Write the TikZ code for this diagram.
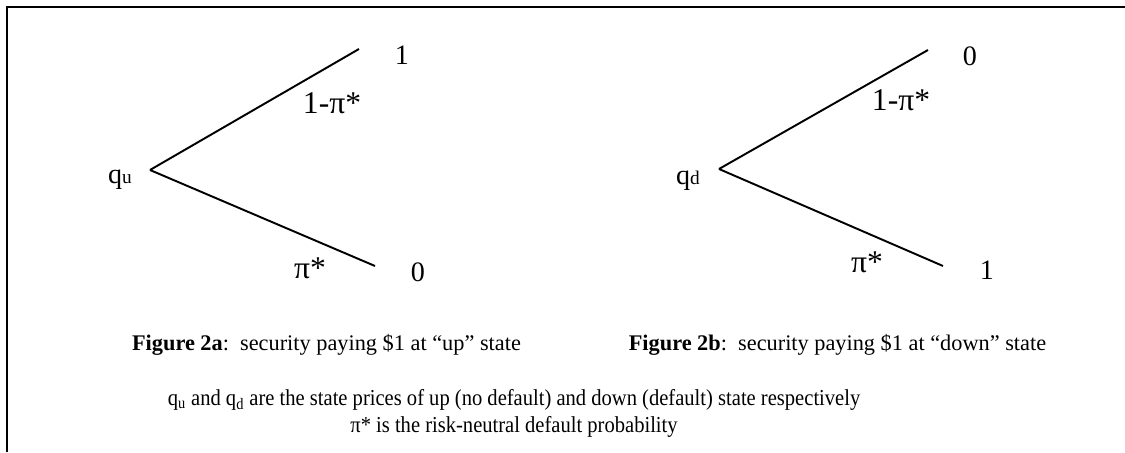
\documentclass[tikz,border=0pt]{standalone}
\usepackage{fontspec}
\setmainfont{Liberation Serif}
\usepackage{tikz}
\usetikzlibrary{positioning}
\tikzset{
  branch/.style={line width=1.1pt, black},
  leaf/.style={inner sep=0pt, font=\fontsize{16}{19}\selectfont},
  weight/.style={inner sep=0pt, font=\fontsize{18}{21}\selectfont},
  caption/.style={inner sep=0pt, font=\fontsize{12.7}{15}\selectfont},
  note/.style={inner sep=0pt, xscale=0.9, font=\fontsize{13}{15}\selectfont}
}
\newcommand{\pistar}{π*}
\begin{document}
\begin{tikzpicture}
  \useasboundingbox (0,0) rectangle (22.5,9.04);
  % frame
  \draw[line width=1.1pt] (0.14,0) -- (0.14,8.90) -- (22.5,8.90);
  % tree a
  \coordinate (ra) at (3.00,5.64);
  \coordinate (ua) at (7.18,8.06);
  \coordinate (da) at (7.50,3.72);
  \draw[branch] (ra) -- (ua);
  \draw[branch] (ra) -- (da);
  \node[leaf] (qa)  at (2.40,5.44) {q{\fontsize{11}{12}\selectfont u}};
  \node[leaf] (pa1) at (8.04,7.94) {1};
  \node[leaf] (pa0) at (8.36,3.60) {0};
  \node[weight] (wa1) at (6.64,6.98) {1-\pistar};
  \node[weight] (wa0) at (6.20,3.68) {\pistar};
  % tree b
  \coordinate (rb) at (14.38,5.66);
  \coordinate (ub) at (18.56,8.04);
  \coordinate (db) at (18.86,3.72);
  \draw[branch] (rb) -- (ub);
  \draw[branch] (rb) -- (db);
  \node[leaf] (qb)  at (13.76,5.42) {q{\fontsize{11}{12}\selectfont d}};
  \node[leaf] (pb0) at (19.40,7.92) {0};
  \node[leaf] (pb1) at (19.74,3.64) {1};
  \node[weight] (wb1) at (18.02,7.04) {1-\pistar};
  \node[weight] (wb0) at (17.34,3.80) {\pistar};
  % captions
  \node[caption] (capa) at (6.53,2.14) {\textbf{Figure 2a}:\ \ security paying \$1 at “up” state};
  \node[caption] (capb) at (16.75,2.14) {\textbf{Figure 2b}:\ \ security paying \$1 at “down” state};
  \node[note] (notea) at (10.28,1.04) {q$_\mathrm{u}$ and q$_\mathrm{d}$ are the state prices of up (no default) and down (default) state respectively};
  \node[note, below=0.1 of notea] (noteb) {\pistar{} is the risk-neutral default probability};
\end{tikzpicture}
\end{document}
